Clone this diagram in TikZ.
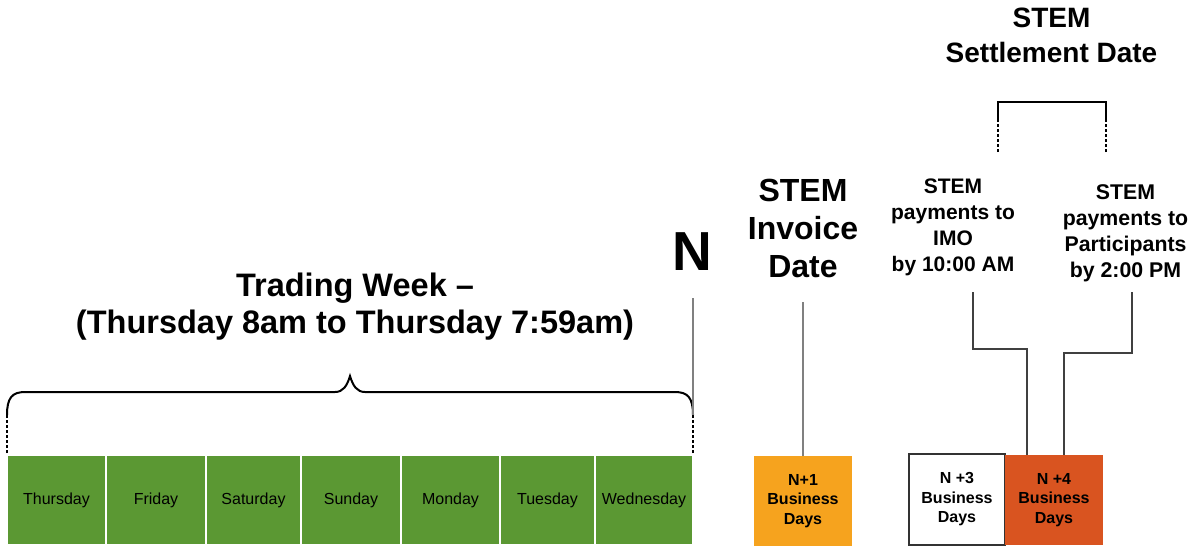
\documentclass[tikz,border=0pt]{standalone}
\usepackage{fontspec}
\setmainfont{Liberation Sans}

\definecolor{dayGreen}{HTML}{5B9833}
\definecolor{nOrange}{HTML}{F6A31E}
\definecolor{nRed}{HTML}{D95420}

\tikzset{
  daybox/.style={fill=dayGreen, draw=white, line width=1.5pt, minimum height=90pt,
    inner sep=0pt, font=\fontsize{16}{19}\selectfont},
  bizbox/.style={minimum width=98pt, minimum height=90pt, inner sep=0pt, align=center,
    font=\bfseries\fontsize{16}{19.5}\selectfont},
  tick/.style={draw=gray, line width=1.5pt},
  link/.style={draw=black!75, line width=1.2pt},
}

\begin{document}
\begin{tikzpicture}[x=1pt,y=-1pt]
  \useasboundingbox (0,0) rectangle (1192,547);
  % days of the trading week
  \node[daybox, minimum width=99pt] (thu) at (56.5,500) {Thursday};
  \node[daybox, minimum width=100pt] (fri) at (156,500) {Friday};
  \node[daybox, minimum width=95pt] (sat) at (253.5,500) {Saturday};
  \node[daybox, minimum width=100pt] (sun) at (351,500) {Sunday};
  \node[daybox, minimum width=99pt] (mon) at (450.5,500) {Monday};
  \node[daybox, minimum width=95pt] (tue) at (547.5,500) {Tuesday};
  \node[daybox, minimum width=98pt] (wed) at (644,500) {Wednesday};
  % brace over the week
  \coordinate (BL) at (7,415);
  \coordinate (BR) at (693,415);
  \coordinate (BLd) at (7,453);
  \coordinate (BRd) at (693,453);
  \draw[densely dashed, line width=1.5pt] (BLd) -- (BL);
  \draw[densely dashed, line width=1.5pt] (BRd) -- (BR);
  \draw[line width=2pt] (BL) .. controls (7,398) and (12,392) .. (25,392) -- (335,392)
    .. controls (343,392) and (347,386) .. (350,376)
    .. controls (353,386) and (357,392) .. (365,392) -- (675,392)
    .. controls (688,392) and (693,398) .. (BR);
  \node[inner sep=0pt, align=center, font=\bfseries\fontsize{32.5}{37}\selectfont] (week) at (355,307)
    {Trading Week --\\(Thursday 8am to Thursday 7:59am)};
  % day N
  \node[inner sep=0pt, font=\bfseries\fontsize{55}{60}\selectfont] (N) at (692,252) {N};
  \coordinate (Ntop) at (693,298);
  \draw[tick] (Ntop) -- (BR);
  % invoice date
  \node[inner sep=0pt, align=center, font=\bfseries\fontsize{32}{38}\selectfont] (invoice) at (803,228)
    {STEM\\Invoice\\Date};
  \node[bizbox, fill=nOrange] (n1) at (803,501) {N+1\\Business\\Days};
  \coordinate (Itop) at (803,302);
  \draw[tick] (Itop) -- (n1.north);
  % settlement date
  \node[inner sep=0pt, align=center, font=\bfseries\fontsize{28}{35}\selectfont] (settle) at (1051.5,35)
    {STEM\\Settlement Date};
  \coordinate (S1) at (998,152);
  \coordinate (S2) at (1106,152);
  \coordinate (Sa) at (998,119);
  \coordinate (Sb) at (1106,119);
  \draw[densely dashed, line width=1.2pt] (S1) -- (Sa);
  \draw[densely dashed, line width=1.2pt] (S2) -- (Sb);
  \draw[line width=2pt] (Sa) -- ++(0,-17) -| (Sb);
  \node[inner sep=0pt, align=center, font=\bfseries\fontsize{21}{26}\selectfont] (imo) at (953,227.5)
    {STEM\\payments to\\IMO\\by 10:00 AM};
  \node[inner sep=0pt, align=center, font=\bfseries\fontsize{21.3}{26}\selectfont] (part) at (1125.5,233.5)
    {STEM\\payments to\\Participants\\by 2:00 PM};
  \node[bizbox, minimum width=96pt, minimum height=91pt, draw=black!80, line width=1.5pt] (n3) at (957,499.5)
    {N +3\\Business\\Days};
  \node[bizbox, fill=nRed] (n4) at (1054,500) {N +4\\Business\\Days};
  \coordinate (P1) at (973,292);
  \coordinate (P2) at (1132,292);
  \draw[link] (P1) -- ++(0,57) -| ([xshift=-27pt]n4.north);
  \draw[link] (P2) -- ++(0,61) -| ([xshift=10pt]n4.north);
\end{tikzpicture}
\end{document}
